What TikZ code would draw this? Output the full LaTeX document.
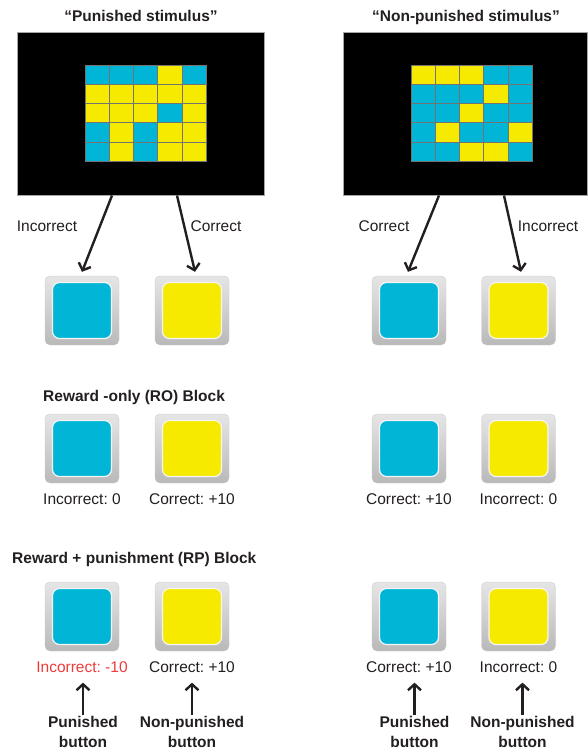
\documentclass[tikz,border=0pt]{standalone}
\usepackage{fontspec}
\setmainfont{Liberation Sans}
\usetikzlibrary{arrows.meta}
\usetikzlibrary{positioning}
\frenchspacing
\definecolor{stimblue}{HTML}{00B5D5}
\definecolor{stimyellow}{HTML}{F5EA00}
\definecolor{ink}{HTML}{231F20}
\definecolor{penalty}{HTML}{EE3B3B}
\colorlet{cb}{stimblue}
\colorlet{cy}{stimyellow}
\tikzstyle{screen} = [rectangle, fill=black, draw=gray!70, line width=1pt, minimum width=247pt, minimum height=163pt]
\tikzstyle{keyframe} = [rectangle, rounded corners=5pt, minimum width=74pt, minimum height=69pt, top color=gray!20, bottom color=gray!55, draw=gray!40]
\tikzstyle{keyface} = [rectangle, rounded corners=7pt, minimum width=59pt, minimum height=56pt, draw=gray!8, line width=1.2pt]
\tikzstyle{lbl} = [font=\fontsize{15.5}{18}\selectfont, text=ink, inner sep=0pt, text height=11pt, text depth=0pt]
\tikzstyle{head} = [lbl, font=\fontsize{15.5}{18}\selectfont\bfseries]
\tikzstyle{tag} = [font=\fontsize{15.5}{20}\selectfont\bfseries, text=ink, inner sep=0pt, align=center, anchor=north]
\tikzstyle{arr} = [draw=ink, line width=2.4pt, -{Straight Barb[length=6pt,width=13pt]}]

\begin{document}
\begin{tikzpicture}[x=1pt,y=-1pt]
\useasboundingbox[fill=white] (0,0) rectangle (587,750);

% stimulus screens
\node (scrL) [screen] at (140.5,113.5) {};
\node (scrR) [screen, minimum width=244pt] at (465,113.5) {};
\node (ttlL) [head] at (141,15.5) {“Punished stimulus”};
\node (ttlR) [head] at (466,15.5) {“Non-punished stimulus”};

\begin{scope}[shift={(85,65)}]
\foreach \cells [count=\r] in {{cb,cb,cb,cy,cb},{cy,cy,cy,cy,cy},{cy,cy,cy,cb,cy},{cb,cy,cb,cy,cy},{cb,cy,cb,cy,cy}}
  \foreach \c [count=\k] in \cells
    \filldraw[fill=\c, draw=black!55, line width=0.4pt] ({24.2*(\k-1)},{19.2*(\r-1)}) rectangle ++(24.2,19.2);
\end{scope}
\begin{scope}[shift={(411,65)}]
\foreach \cells [count=\r] in {{cy,cy,cy,cb,cb},{cb,cb,cb,cy,cb},{cb,cb,cy,cb,cb},{cb,cy,cb,cb,cy},{cb,cb,cy,cy,cb}}
  \foreach \c [count=\k] in \cells
    \filldraw[fill=\c, draw=black!55, line width=0.4pt] ({24.2*(\k-1)},{19.2*(\r-1)}) rectangle ++(24.2,19.2);
\end{scope}

% response buttons
\foreach \row/\y in {top/310.5,ro/448.5,rp/616.5}
  \foreach \key/\x/\c in {blueL/82/stimblue,yelL/192/stimyellow,blueR/409/stimblue,yelR/518.5/stimyellow} {
    \node (\key\row) [keyframe] at (\x,\y) {};
    \node [keyface, fill=\c] at (\key\row) {};
  }

% choices
\node (incL) [lbl] at (47,225.5) {Incorrect};
\node (corL) [lbl] at (216,225.5) {Correct};
\node (corR) [lbl] at (384,225.5) {Correct};
\node (incR) [lbl] at (548,225.5) {Incorrect};
\draw[arr] ([xshift=-28.5pt]scrL.south) -- ([yshift=4pt]blueLtop.north);
\draw[arr] ([xshift=36.5pt]scrL.south) -- ([xshift=3pt,yshift=4pt]yelLtop.north);
\draw[arr] ([xshift=-26pt]scrR.south) -- ([xshift=-1pt,yshift=4pt]blueRtop.north);
\draw[arr] ([xshift=39pt]scrR.south) -- ([xshift=2.5pt,yshift=4pt]yelRtop.north);

% reward-only block
\node (ttlRO) [head, anchor=west] at (43,395.5) {Reward -only (RO) Block};
\node (lblBlueLro) [lbl, below=10pt of blueLro] {Incorrect: 0};
\node (lblYelLro) [lbl, below=10pt of yelLro] {Correct: +10};
\node (lblBlueRro) [lbl, below=10pt of blueRro] {Correct: +10};
\node (lblYelRro) [lbl, below=10pt of yelRro] {Incorrect: 0};

% reward + punishment block
\node (ttlRP) [head, anchor=west] at (12,557.5) {Reward + punishment (RP) Block};
\node (lblBlueLrp) [lbl, below=10pt of blueLrp, text=penalty] {Incorrect: -10};
\node (lblYelLrp) [lbl, below=10pt of yelLrp] {Correct: +10};
\node (lblBlueRrp) [lbl, below=10pt of blueRrp] {Correct: +10};
\node (lblYelRrp) [lbl, below=10pt of yelRrp] {Incorrect: 0};

\node (punL) [tag] at (83,716) {Punished\\button};
\node (nonL) [tag] at (192,716) {Non-punished\\button};
\node (punR) [tag] at (414.5,716) {Punished\\button};
\node (nonR) [tag] at (522.5,716) {Non-punished\\button};
\draw[arr, shorten <=1pt, shorten >=10pt] (punL.north) -- (punL.north |- lblBlueLrp.south);
\draw[arr, shorten <=1pt, shorten >=10pt] (nonL.north) -- (nonL.north |- lblYelLrp.south);
\draw[arr, shorten <=1pt, shorten >=10pt] (punR.north) -- (punR.north |- lblBlueRrp.south);
\draw[arr, shorten <=1pt, shorten >=10pt] (nonR.north) -- (nonR.north |- lblYelRrp.south);
\end{tikzpicture}
\end{document}
